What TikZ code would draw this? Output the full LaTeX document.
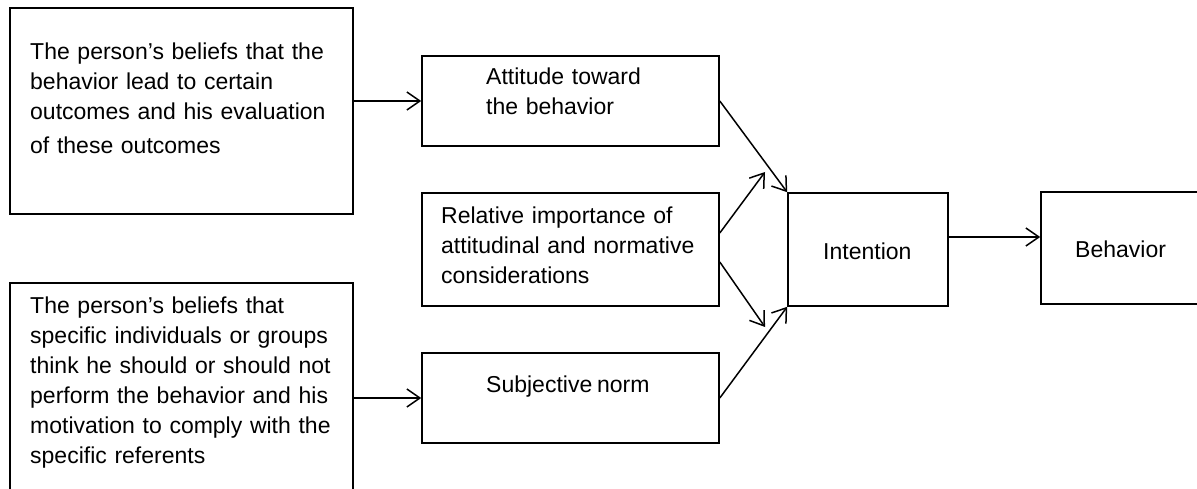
\documentclass[tikz,border=0pt]{standalone}
\usepackage{fontspec}
\setmainfont[WordSpace=0.75]{Liberation Sans}
\usetikzlibrary{arrows.meta}

\tikzset{
  box/.style={draw, line width=1.6pt, inner sep=0pt},
  txt/.style={inner sep=0pt, align=left, anchor=base west, font=\fontsize{23}{30}\selectfont},
  arr/.style={line width=1.5pt, -{Straight Barb[length=13pt,width=18pt]}}
}

\begin{document}
\begin{tikzpicture}[x=1pt, y=1pt]
  \pgfmathsetmacro{\MidX}{570.5}
  \pgfmathsetmacro{\MidW}{297}
  \useasboundingbox (0,0) rectangle (1197,488);

  % boxes
  \node[box, minimum width=343, minimum height=206] (beliefs) at (181.5,377) {};
  \node[box, minimum width=343, minimum height=209] (normbeliefs) at (181.5,100.5) {};
  \node[box, minimum width=\MidW, minimum height=90] (attitude) at (\MidX,387) {};
  \node[box, minimum width=\MidW, minimum height=113] (weights) at (\MidX,238.5) {};
  \node[box, minimum width=\MidW, minimum height=90] (subjnorm) at (\MidX,90) {};
  \node[box, minimum width=160, minimum height=113] (intention) at (868,238.5) {};
  \node[box, minimum width=160, minimum height=112] (behavior) at (1121,240) {};

  % texts
  \node[txt, text width=320] (beliefs-txt) at (30,428.7)
    {The person’s beliefs that the\\ behavior lead to certain\\ outcomes and his evaluation\\[4pt] of these outcomes};
  \node[txt, text width=320] (normbeliefs-txt) at (30,174.7)
    {The person’s beliefs that\\ specific individuals or groups\\ think he should or should not\\ perform the behavior and his\\ motivation to comply with the\\ specific referents};
  \node[txt, text width=200] (attitude-txt) at (486,403) {Attitude toward\\ the behavior};
  \node[txt, text width=270] (weights-txt) at (441,264.7)
    {Relative importance of\\ attitudinal and normative\\ considerations};
  \node[txt] (subjnorm-txt) at (486,95.7) {Subjective norm};
  \node[txt] (intention-txt) at (823,228.7) {Intention};
  \node[txt] (behavior-txt) at (1075,230.7) {Behavior};

  % arrows
  \coordinate (weightsup) at (765,316);
  \coordinate (weightsdown) at (765,161);
  \draw[arr] (beliefs.east |- attitude.west) -- (attitude.west);
  \draw[arr] (normbeliefs.east |- subjnorm.west) -- (subjnorm.west);
  \draw[arr] (attitude.east) -- (intention.north west);
  \draw[arr] ([yshift=16.5]weights.east) -- (weightsup);
  \draw[arr] ([yshift=-12.5]weights.east) -- (weightsdown);
  \draw[arr] (subjnorm.east) -- (intention.south west);
  \draw[arr] ([yshift=12.5]intention.east) -- ([yshift=12.5]intention.east -| behavior.west);
\end{tikzpicture}
\end{document}
